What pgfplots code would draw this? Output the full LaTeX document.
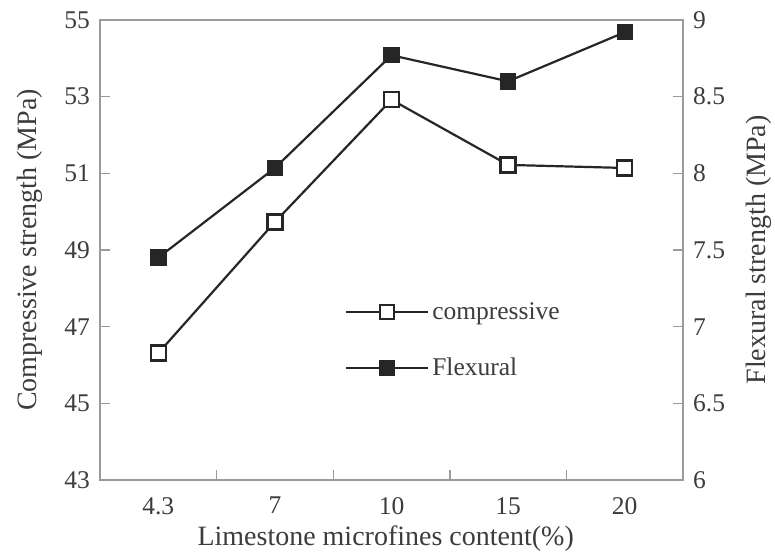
\documentclass[border=0pt]{standalone}
\usepackage{pgfplots}
\pgfplotsset{compat=1.18}
\usepackage{fontspec}
\setmainfont{Liberation Serif}
\definecolor{txt}{HTML}{3C3C3C}
\definecolor{axg}{HTML}{9A9A9A}
\definecolor{ln}{HTML}{262626}
\pgfplotsset{
  common/.style={
    scale only axis, width=583bp, height=460bp,
    xmin=-0.5, xmax=4.5,
    axis line style={draw=axg, line width=1.6bp},
    tick style={draw=axg, line width=1.4bp},
    tick align=inside, major tick length=10bp,
    /pgf/number format/assume math mode=true,
    tick label style={font=\fontsize{25.5bp}{27bp}\selectfont, text=txt},
    label style={font=\fontsize{28bp}{30bp}\selectfont, text=txt},
  },
  longlegend/.style={legend image code/.code={%
    \draw[mark repeat=2,mark phase=2,##1] plot coordinates {(0bp,0bp) (41bp,0bp) (82bp,0bp)};}},
  compstyle/.style={ln, line width=2.2bp, mark=square*, mark size=7.5bp,
    mark options={fill=white, draw=ln, line width=2.3bp}},
  flexstyle/.style={ln, line width=2.2bp, mark=square*, mark size=7.1bp,
    mark options={fill=ln, draw=ln, line width=2.2bp}},
}
\begin{document}
\begin{tikzpicture}
\begin{axis}[common,
  ymin=43, ymax=55,
  ytick={43,45,47,49,51,53,55},
  yticklabels={43,45,47,49,51,53,55},
  ytick pos=left, xtick pos=bottom,
  xtick={0.5,1.5,2.5,3.5}, xticklabels={},
  extra x ticks={0,1,2,3,4},
  extra x tick labels={4.3,7,10,15,20},
  extra x tick style={major tick length=0pt, xticklabel style={inner sep=0pt, yshift=-17bp}},
  yticklabel style={inner sep=0pt, xshift=-10bp},
  xlabel={Limestone microfines content(\%)},
  xlabel style={at={(axis description cs:0.49,-0.128)}, anchor=center},
  ylabel={Compressive strength (MPa)},
  ylabel style={at={(axis description cs:-0.120,0.5)}, anchor=center},
]
\addplot[compstyle]
  coordinates {(0,46.31) (1,49.73) (2,52.92) (3,51.22) (4,51.14)};
\end{axis}
\begin{axis}[common,
  ymin=6, ymax=9,
  ytick={6,6.5,7,7.5,8,8.5,9},
  yticklabels={6,6.5,7,7.5,8,8.5,9},
  axis y line*=right, hide x axis,
  yticklabel style={inner sep=0pt, xshift=10bp},
  ylabel={Flexural strength (MPa)},
  ylabel style={at={(axis description cs:1.130,0.5)}, anchor=center, rotate=0},
  legend style={draw=none, fill=none, at={(axis description cs:0.42,0.304)},
    anchor=west, inner sep=0pt, row sep=31bp,
    font=\fontsize{25.5bp}{27bp}\selectfont, text=txt,
    nodes={inner sep=3bp}},
  legend cell align=left,
]
\addplot[flexstyle, forget plot]
  coordinates {(0,7.45) (1,8.035) (2,8.77) (3,8.60) (4,8.92)};
\addlegendimage{compstyle, mark size=7bp, longlegend}
\addlegendentry{compressive}
\addlegendimage{flexstyle, longlegend}
\addlegendentry{Flexural}
\end{axis}
\pgfresetboundingbox
\path[use as bounding box] (-100bp,-75bp) rectangle (675bp,480bp);
\end{tikzpicture}
\end{document}
